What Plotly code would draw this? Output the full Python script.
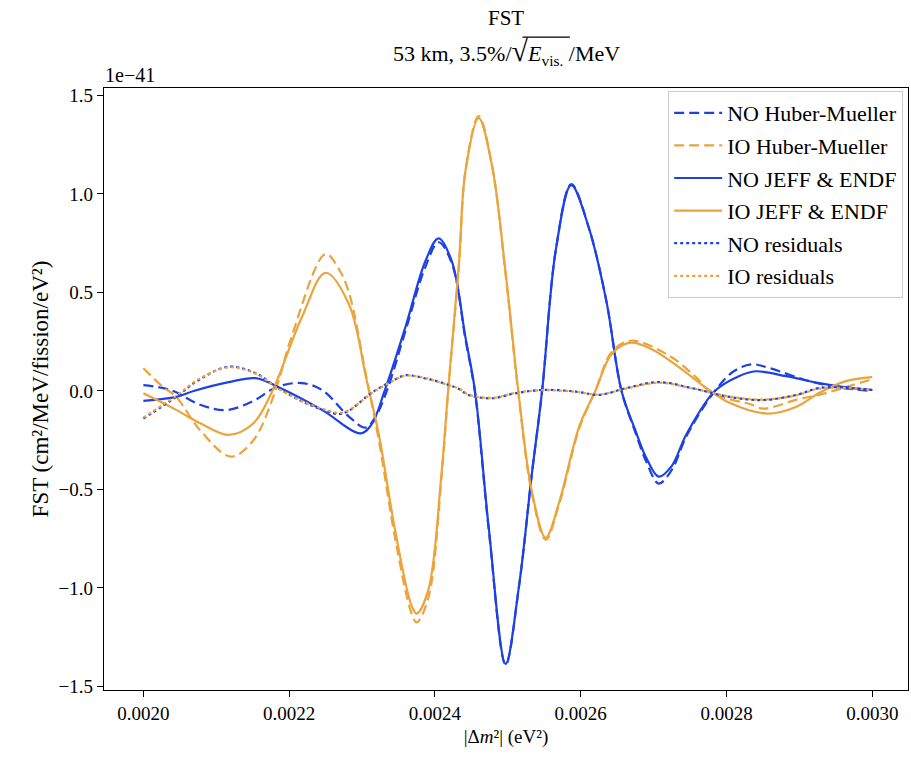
import plotly.graph_objects as go

# values in units of 1e-41 cm^2/MeV/fission/eV^2
no_hm_x = [0.002000, 0.002037, 0.002078, 0.002114, 0.002151, 0.002183, 0.002217, 0.002245, 0.002282, 0.002305,
           0.002319, 0.002334, 0.002360, 0.002387, 0.002405, 0.002423, 0.002442, 0.002455, 0.002474, 0.002497,
           0.002515, 0.002533, 0.002547, 0.002566, 0.002587, 0.002611, 0.002635, 0.002656, 0.002675, 0.002690,
           0.002707, 0.002725, 0.002745, 0.002784, 0.002810, 0.002835, 0.002860, 0.002908, 0.002950, 0.003000]
no_hm_y = [0.03, 0.005, -0.07, -0.097, -0.05, 0.02, 0.04, 0.005, -0.13, -0.186,
           -0.127, 0.0, 0.31, 0.63, 0.755, 0.65, 0.26, -0.01, -0.71, -1.39,
           -1.0, -0.42, 0.0, 0.72, 1.05, 0.83, 0.46, 0.0, -0.21, -0.36,
           -0.47, -0.40, -0.23, 0.0, 0.10, 0.135, 0.115, 0.056, 0.02, 0.0]

io_hm_x = [0.002000, 0.002027, 0.002045, 0.002078, 0.002120, 0.002151, 0.002181, 0.002202, 0.002250, 0.002268,
           0.002282, 0.002306, 0.002323, 0.002346, 0.002368, 0.002375, 0.002391, 0.002409, 0.002418, 0.002433,
           0.002442, 0.002460, 0.002478, 0.002497, 0.002515, 0.002533, 0.002552, 0.002570, 0.002598, 0.002620,
           0.002643, 0.002669, 0.002721, 0.002758, 0.002780, 0.002835, 0.002850, 0.002900, 0.002927, 0.002973, 0.003000]
io_hm_y = [0.115, 0.02, -0.03, -0.2, -0.333, -0.25, 0.0, 0.26, 0.695, 0.62,
           0.50, 0.07, -0.25, -0.76, -1.13, -1.175, -1.05, -0.44, -0.01, 0.64,
           1.12, 1.395, 1.15, 0.59, -0.03, -0.52, -0.755, -0.58, -0.19, 0.0,
           0.20, 0.255, 0.18, 0.07, -0.01, -0.07, -0.09, -0.04, -0.02, 0.03, 0.06]

no_jeff_x = [0.002000, 0.002045, 0.002069, 0.002117, 0.002154, 0.002185, 0.002245, 0.002298, 0.002313, 0.002331,
             0.002360, 0.002387, 0.002405, 0.002423, 0.002442, 0.002455, 0.002474, 0.002497, 0.002515, 0.002533,
             0.002547, 0.002566, 0.002587, 0.002611, 0.002635, 0.002656, 0.002675, 0.002690, 0.002707, 0.002725,
             0.002745, 0.002784, 0.002817, 0.002840, 0.002882, 0.002927, 0.002973, 0.003000]
no_jeff_y = [-0.05, -0.03, 0.0, 0.045, 0.065, 0.02, -0.096, -0.215, -0.17, 0.0,
             0.33, 0.66, 0.775, 0.66, 0.27, 0.0, -0.70, -1.385, -1.0, -0.42,
             0.0, 0.72, 1.045, 0.83, 0.46, 0.0, -0.20, -0.34, -0.435, -0.38,
             -0.22, 0.0, 0.075, 0.10, 0.075, 0.04, 0.014, 0.005]

io_jeff_x = [0.002000, 0.002045, 0.002078, 0.002117, 0.002151, 0.002177, 0.002217, 0.002250, 0.002282, 0.002306,
             0.002323, 0.002346, 0.002368, 0.002375, 0.002391, 0.002409, 0.002418, 0.002433, 0.002442, 0.002460,
             0.002478, 0.002497, 0.002515, 0.002533, 0.002552, 0.002570, 0.002598, 0.002620, 0.002643, 0.002669,
             0.002698, 0.002735, 0.002776, 0.002804, 0.002856, 0.002896, 0.002927, 0.002964, 0.003000]
io_jeff_y = [-0.012, -0.096, -0.164, -0.223, -0.164, 0.0, 0.37, 0.60, 0.44, 0.06,
             -0.22, -0.72, -1.09, -1.13, -1.01, -0.42, 0.0, 0.65, 1.12, 1.385,
             1.15, 0.60, -0.02, -0.51, -0.745, -0.57, -0.18, 0.0, 0.19, 0.245,
             0.21, 0.12, 0.005, -0.06, -0.115, -0.08, -0.01, 0.05, 0.07]

res_x = [0.002000, 0.002045, 0.002076, 0.002117, 0.002154, 0.002185, 0.002223, 0.002254, 0.002268, 0.002282,
         0.002313, 0.002346, 0.002360, 0.002391, 0.002405, 0.002433, 0.002446, 0.002478, 0.002510, 0.002547,
         0.002593, 0.002625, 0.002662, 0.002707, 0.002752, 0.002804, 0.002849, 0.002896, 0.002927, 0.002973, 0.003000]
no_res_y = [-0.14, -0.03, 0.056, 0.123, 0.09, 0.014, -0.062, -0.105, -0.117, -0.10,
            -0.01, 0.06, 0.08, 0.06, 0.047, 0.01, -0.02, -0.037, -0.012, 0.005,
            -0.003, -0.02, 0.014, 0.045, 0.015, -0.03, -0.046, -0.02, 0.015, 0.015, 0.005]
io_res_y = [-0.135, -0.025, 0.06, 0.12, 0.088, 0.012, -0.06, -0.10, -0.112, -0.098,
            -0.012, 0.058, 0.078, 0.062, 0.045, 0.012, -0.018, -0.035, -0.01, 0.004,
            -0.004, -0.018, 0.012, 0.042, 0.014, -0.028, -0.044, -0.022, 0.012, 0.014, 0.004]

BLUE = "#1f40e4"
ORANGE = "#eba43c"
FONT = "Liberation Serif, Times New Roman, serif"

series = [
    ("NO Huber-Mueller", no_hm_x, no_hm_y, BLUE, "10px,5px"),
    ("IO Huber-Mueller", io_hm_x, io_hm_y, ORANGE, "10px,5px"),
    ("NO JEFF & ENDF", no_jeff_x, no_jeff_y, BLUE, "solid"),
    ("IO JEFF & ENDF", io_jeff_x, io_jeff_y, ORANGE, "solid"),
    ("NO residuals", res_x, no_res_y, BLUE, "3px,3px"),
    ("IO residuals", res_x, io_res_y, ORANGE, "3px,3px"),
]

fig = go.Figure()
for i, (name, xs, ys, col, dash) in enumerate(series):
    fig.add_trace(go.Scatter(x=xs, y=ys, mode="lines", name=name, legendgroup=str(i),
                             line=dict(color=col, width=2.2, dash=dash, shape="spline", smoothing=1.0)))

axis_common = dict(showline=True, linecolor="black", linewidth=1.3, mirror=True, ticks="outside",
                   ticklen=6, tickcolor="black", showgrid=False, zeroline=False,
                   tickfont=dict(family=FONT, size=19, color="black"))

fig.update_layout(
    width=911, height=759,
    margin=dict(l=104, r=3, t=88, b=69),
    paper_bgcolor="white", plot_bgcolor="white",
    font=dict(family=FONT, size=19, color="black"),
    showlegend=True,
    legend=dict(x=0.994, y=0.995, xanchor="right", yanchor="top", bgcolor="rgba(255,255,255,0.8)",
                bordercolor="#cccccc", borderwidth=1, font=dict(family=FONT, size=22),
                tracegroupgap=1, itemwidth=48),
    xaxis=dict(range=[0.001946, 0.003049], tickvals=[0.0020, 0.0022, 0.0024, 0.0026, 0.0028, 0.0030],
               ticktext=["0.0020", "0.0022", "0.0024", "0.0026", "0.0028", "0.0030"],
               title=dict(text="|Δ<i>m</i>²| (eV²)", font=dict(family=FONT, size=19), standoff=6),
               **axis_common),
    yaxis=dict(range=[-1.518, 1.538], tickvals=[-1.5, -1.0, -0.5, 0.0, 0.5, 1.0, 1.5],
               ticktext=["−1.5", "−1.0", "−0.5", "0.0", "0.5", "1.0", "1.5"],
               title=dict(text="FST (cm²/MeV/fission/eV²)", font=dict(family=FONT, size=23), standoff=3),
               **axis_common),
)

fig.add_annotation(text="FST", xref="paper", yref="paper", x=0.5, y=1.0, yshift=70,
                   showarrow=False, font=dict(family=FONT, size=21), xanchor="center", yanchor="middle")
fig.add_annotation(text="53 km, 3.5%/<span style=\"font-size:30px\">√</span><i>E</i><sub>vis.</sub> /MeV",
                   xref="paper", yref="paper",
                   x=0.5, y=1.0, yshift=37, showarrow=False, font=dict(family=FONT, size=22),
                   xanchor="center", yanchor="middle")
# radical overline
fig.add_shape(type="line", xref="paper", yref="paper", x0=0.5205, x1=0.5795, y0=1.0845, y1=1.0845,
              line=dict(color="black", width=1.2))
fig.add_annotation(text="1e−41", xref="paper", yref="paper", x=0.0, y=1.0, yshift=13, xshift=-1,
                   showarrow=False, font=dict(family=FONT, size=20), xanchor="left", yanchor="middle")

fig.write_html("out.html")
